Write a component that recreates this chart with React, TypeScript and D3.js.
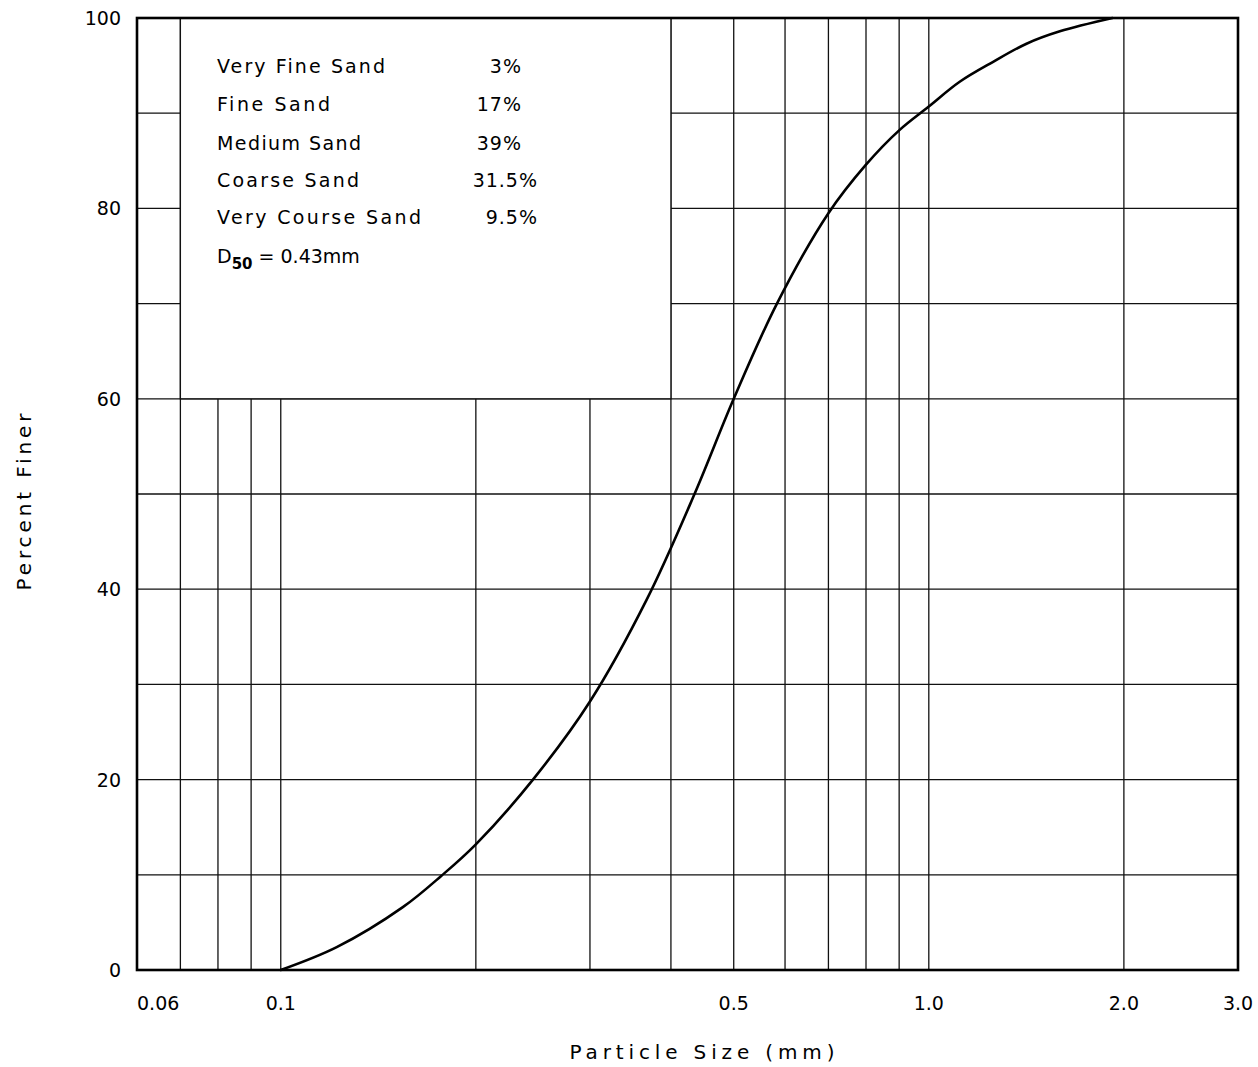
import React from "react";
import * as d3 from "d3";

const curveSizes = [0.1, 0.122, 0.1543, 0.177, 0.2, 0.245, 0.3, 0.367, 0.435, 0.5, 0.583, 0.7, 0.8, 0.9, 1.0, 1.116, 1.257, 1.415, 1.593, 1.92];
const curvePercents = [0, 2.4, 6.6, 9.9, 13.2, 20, 28.2, 38.9, 50, 60, 70, 79.5, 84.6, 88.2, 90.7, 93.3, 95.4, 97.3, 98.6, 100];

const xGridValues = [0.07, 0.08, 0.09, 0.1, 0.2, 0.3, 0.4, 0.5, 0.6, 0.7, 0.8, 0.9, 1.0, 2.0];
const yGridValues = [10, 20, 30, 40, 50, 60, 70, 80, 90];
const xTickValues = [0.06, 0.1, 0.5, 1.0, 2.0, 3.0];
const xTickLabels = ["0.06", "0.1", "0.5", "1.0", "2.0", "3.0"];
const yTickValues = [0, 20, 40, 60, 80, 100];
const yTickLabels = ["0", "20", "40", "60", "80", "100"];

const legendLabels = ["Very Fine Sand", "Fine Sand", "Medium Sand", "Coarse Sand", "Very Course Sand"];
const legendValues = ["3%", "17%", "39%", "31.5%", "9.5%"];
const d50Value = "0.43mm";

const W = 1258;
const H = 1067;
const FONT = "'DejaVu Sans', 'Liberation Sans', sans-serif";

export default function App() {
  const x = d3.scaleLog().domain([0.06, 3.0]).range([137, 1238]);
  const y = d3.scaleLinear().domain([0, 100]).range([970, 18]);

  const pts: [number, number][] = curveSizes.map((s, i) => [x(s), y(curvePercents[i])]);
  const line = d3.line<[number, number]>().x((d) => d[0]).y((d) => d[1]).curve(d3.curveCatmullRom.alpha(0.5));
  const path = line(pts) || "";

  const boxX0 = x(0.07);
  const boxX1 = x(0.4);
  const boxY0 = y(100);
  const boxY1 = y(60);

  const legendTextLens = [168, 113, 144, 142, 204];
  const rowBaselines = [73, 111, 150, 187, 224];

  return (
    <svg
      width={W}
      height={H}
      style={{ position: "absolute", left: 0, top: 0, background: "#fff" }}
      fontFamily={FONT}
    >
      <rect x={0} y={0} width={W} height={H} fill="#fff" />
      {/* grid */}
      <g stroke="#111" strokeWidth={1.3}>
        {xGridValues.map((v) => (
          <line key={"vx" + v} x1={x(v)} x2={x(v)} y1={y(0)} y2={y(100)} />
        ))}
        {yGridValues.map((v) => (
          <line key={"hy" + v} x1={x(0.06)} x2={x(3.0)} y1={y(v)} y2={y(v)} />
        ))}
      </g>
      {/* legend box masks grid */}
      <rect x={boxX0} y={boxY0} width={boxX1 - boxX0} height={boxY1 - boxY0} fill="#fff" stroke="#111" strokeWidth={1.3} />

      {/* curve */}
      <path d={path} fill="none" stroke="#000" strokeWidth={2.6} strokeLinejoin="round" strokeLinecap="round" />

      {/* frame */}
      <rect x={x(0.06)} y={y(100)} width={x(3.0) - x(0.06)} height={y(0) - y(100)} fill="none" stroke="#000" strokeWidth={2.6} />

      {/* legend text */}
      <g fontSize={19} fill="#000">
        {legendLabels.map((lab, i) => (
          <text key={lab} x={217} y={rowBaselines[i]} textLength={legendTextLens[i]} lengthAdjust="spacing">
            {lab}
          </text>
        ))}
        {legendValues.map((v, i) => (
          <text key={v} x={v.includes(".") ? 538 : 522} y={rowBaselines[i]} textAnchor="end" letterSpacing={1}>
            {v}
          </text>
        ))}
        <text x={217} y={263}>
          D
          <tspan dy={6} fontSize={15} fontWeight="bold">50</tspan>
          <tspan dy={-6}>{" = " + d50Value}</tspan>
        </text>
      </g>

      {/* y tick labels */}
      <g fontSize={19} fill="#000">
        {yTickValues.map((v, i) => (
          <text key={"yt" + v} x={121} y={y(v) + 7} textAnchor="end">
            {yTickLabels[i]}
          </text>
        ))}
      </g>

      {/* x tick labels */}
      <g fontSize={19} fill="#000">
        {xTickValues.map((v, i) => (
          <text
            key={"xt" + v}
            x={x(v)}
            y={1010}
            textAnchor={i === 0 ? "start" : "middle"}
          >
            {xTickLabels[i]}
          </text>
        ))}
      </g>

      {/* axis titles */}
      <text x={702} y={1059} fontSize={20} textAnchor="middle" textLength={265} lengthAdjust="spacing">
        Particle Size (mm)
      </text>
      <text
        transform={`translate(31, 502) rotate(-90)`}
        fontSize={20}
        textAnchor="middle"
        textLength={177}
        lengthAdjust="spacing"
      >
        Percent Finer
      </text>
    </svg>
  );
}
